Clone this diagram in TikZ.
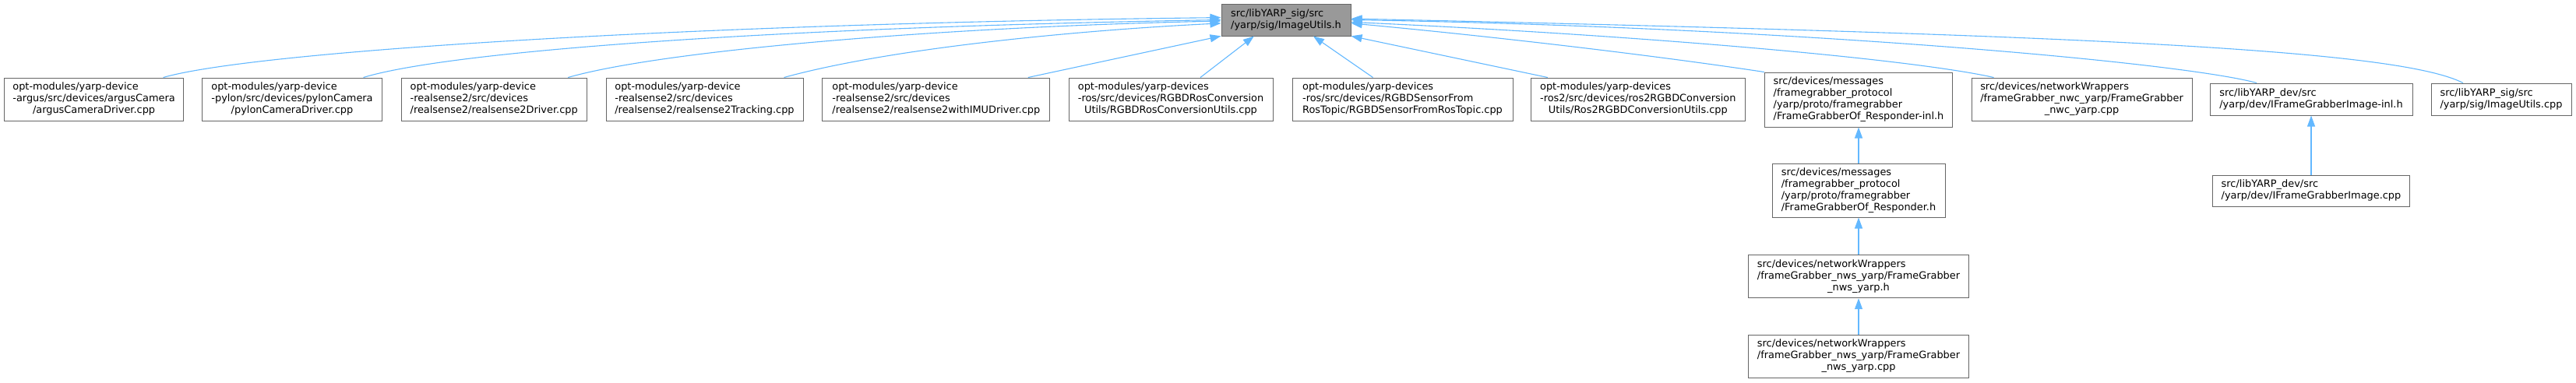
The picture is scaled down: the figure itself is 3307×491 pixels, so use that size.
\documentclass[tikz,border=0pt]{standalone}
\usepackage{fontspec}
\setmainfont{DejaVu Sans}
\usetikzlibrary{arrows.meta}
\definecolor{edgeblue}{HTML}{63B8FF}
\definecolor{boxline}{HTML}{666666}
\definecolor{rootfill}{HTML}{999999}
\newcommand{\filelbl}[2]{\begin{tabular}{@{}l@{}}#1\\\multicolumn{1}{@{}c@{}}{#2}\end{tabular}}

\begin{document}
\begin{tikzpicture}[x=1pt,y=-1pt,
  filebox/.style={draw=boxline,fill=white,line width=1pt,inner sep=0pt,minimum height=55pt,font=\fontsize{12.9}{15}\selectfont},
  incl/.style={draw=edgeblue,line width=1.1pt,-{Triangle[length=14pt,width=10pt]}}]
  \useasboundingbox (0,0) rectangle (3307,491);
  \node[filebox,fill=rootfill,minimum width=166pt,minimum height=41pt] (root) at (1651,25.5) {\filelbl{src/libYARP\_sig/src}{/yarp/sig/ImageUtils.h}};
  \node[filebox,minimum width=230pt] (argus) at (120.6,127.5) {\filelbl{opt-modules/yarp-device\\-argus/src/devices/argusCamera}{/argusCameraDriver.cpp}};
  \node[filebox,minimum width=231pt] (pylon) at (375,127.5) {\filelbl{opt-modules/yarp-device\\-pylon/src/devices/pylonCamera}{/pylonCameraDriver.cpp}};
  \node[filebox,minimum width=238pt] (rsdrv) at (634.2,127.5) {\filelbl{opt-modules/yarp-device\\-realsense2/src/devices}{/realsense2/realsense2Driver.cpp}};
  \node[filebox,minimum width=253pt] (rstrack) at (904.5,127.5) {\filelbl{opt-modules/yarp-device\\-realsense2/src/devices}{/realsense2/realsense2Tracking.cpp}};
  \node[filebox,minimum width=292pt] (rsimu) at (1201.8,127.5) {\filelbl{opt-modules/yarp-device\\-realsense2/src/devices}{/realsense2/realsense2withIMUDriver.cpp}};
  \node[filebox,minimum width=262pt] (rosconv) at (1503,127.5) {\filelbl{opt-modules/yarp-devices\\-ros/src/devices/RGBDRosConversion}{Utils/RGBDRosConversionUtils.cpp}};
  \node[filebox,minimum width=283pt] (rostopic) at (1800.5,127.5) {\filelbl{opt-modules/yarp-devices\\-ros/src/devices/RGBDSensorFrom}{RosTopic/RGBDSensorFromRosTopic.cpp}};
  \node[filebox,minimum width=274.5pt] (rostwo) at (2102.8,127.5) {\filelbl{opt-modules/yarp-devices\\-ros2/src/devices/ros2RGBDConversion}{Utils/Ros2RGBDConversionUtils.cpp}};
  \node[filebox,minimum width=241.5pt,minimum height=70pt] (respinl) at (2386,128) {\filelbl{src/devices/messages\\/framegrabber\_protocol\\/yarp/proto/framegrabber}{/FrameGrabberOf\_Responder-inl.h}};
  \node[filebox,minimum width=283pt] (nwc) at (2672.5,127.5) {\filelbl{src/devices/networkWrappers\\/frameGrabber\_nwc\_yarp/FrameGrabber}{\_nwc\_yarp.cpp}};
  \node[filebox,minimum width=260pt,minimum height=41pt] (fgiinl) at (2967,127.5) {\filelbl{src/libYARP\_dev/src}{/yarp/dev/IFrameGrabberImage-inl.h}};
  \node[filebox,minimum width=180pt,minimum height=41pt] (utilscpp) at (3211,127.5) {\filelbl{src/libYARP\_sig/src}{/yarp/sig/ImageUtils.cpp}};
  \node[filebox,minimum width=222pt,minimum height=69pt] (resp) at (2386,244.5) {\filelbl{src/devices/messages\\/framegrabber\_protocol\\/yarp/proto/framegrabber}{/FrameGrabberOf\_Responder.h}};
  \node[filebox,minimum width=282.4pt] (nwsh) at (2386,355.2) {\filelbl{src/devices/networkWrappers\\/frameGrabber\_nws\_yarp/FrameGrabber}{\_nws\_yarp.h}};
  \node[filebox,minimum width=282.4pt] (nwscpp) at (2386,457.5) {\filelbl{src/devices/networkWrappers\\/frameGrabber\_nws\_yarp/FrameGrabber}{\_nws\_yarp.cpp}};
  \node[filebox,minimum width=253.5pt,minimum height=40pt] (fgicpp) at (2967,245) {\filelbl{src/libYARP\_dev/src}{/yarp/dev/IFrameGrabberImage.cpp}};
  \draw[incl] ([xshift=89pt]argus.north) .. controls (330,65) and (900,30) .. (root.178);
  \draw[incl] ([xshift=91.5pt]pylon.north) .. controls (580,65) and (1000,35) .. (root.180);
  \draw[incl] ([xshift=95pt]rsdrv.north) .. controls (850,65) and (1200,35) .. (root.181);
  \draw[incl] ([xshift=102pt]rstrack.north) .. controls (1150,60) and (1400,38) .. (root.183);
  \draw[incl] ([xshift=118pt]rsimu.north) -- (root.194);
  \draw[incl] ([xshift=38pt]rosconv.north) -- (root.207);
  \draw[incl] ([xshift=-38pt]rostopic.north) -- (root.329);
  \draw[incl] ([xshift=-116pt]rostwo.north) -- (root.346);
  \draw[incl] (respinl.north west) .. controls (2150,75) and (1950,50) .. (root.357);
  \draw[incl] ([xshift=-113pt]nwc.north) .. controls (2450,75) and (2100,45) .. (root.358);
  \draw[incl] ([xshift=-70pt]fgiinl.north) .. controls (2800,80) and (2300,35) .. (root.0);
  \draw[incl] ([xshift=-49pt]utilscpp.north) .. controls (3080,65) and (2700,45) .. (root.1);
  \foreach \a/\b in {resp/respinl,nwsh/resp,nwscpp/nwsh,fgicpp/fgiinl}
    \draw[incl] (\a) -- (\b);
\end{tikzpicture}
\end{document}
